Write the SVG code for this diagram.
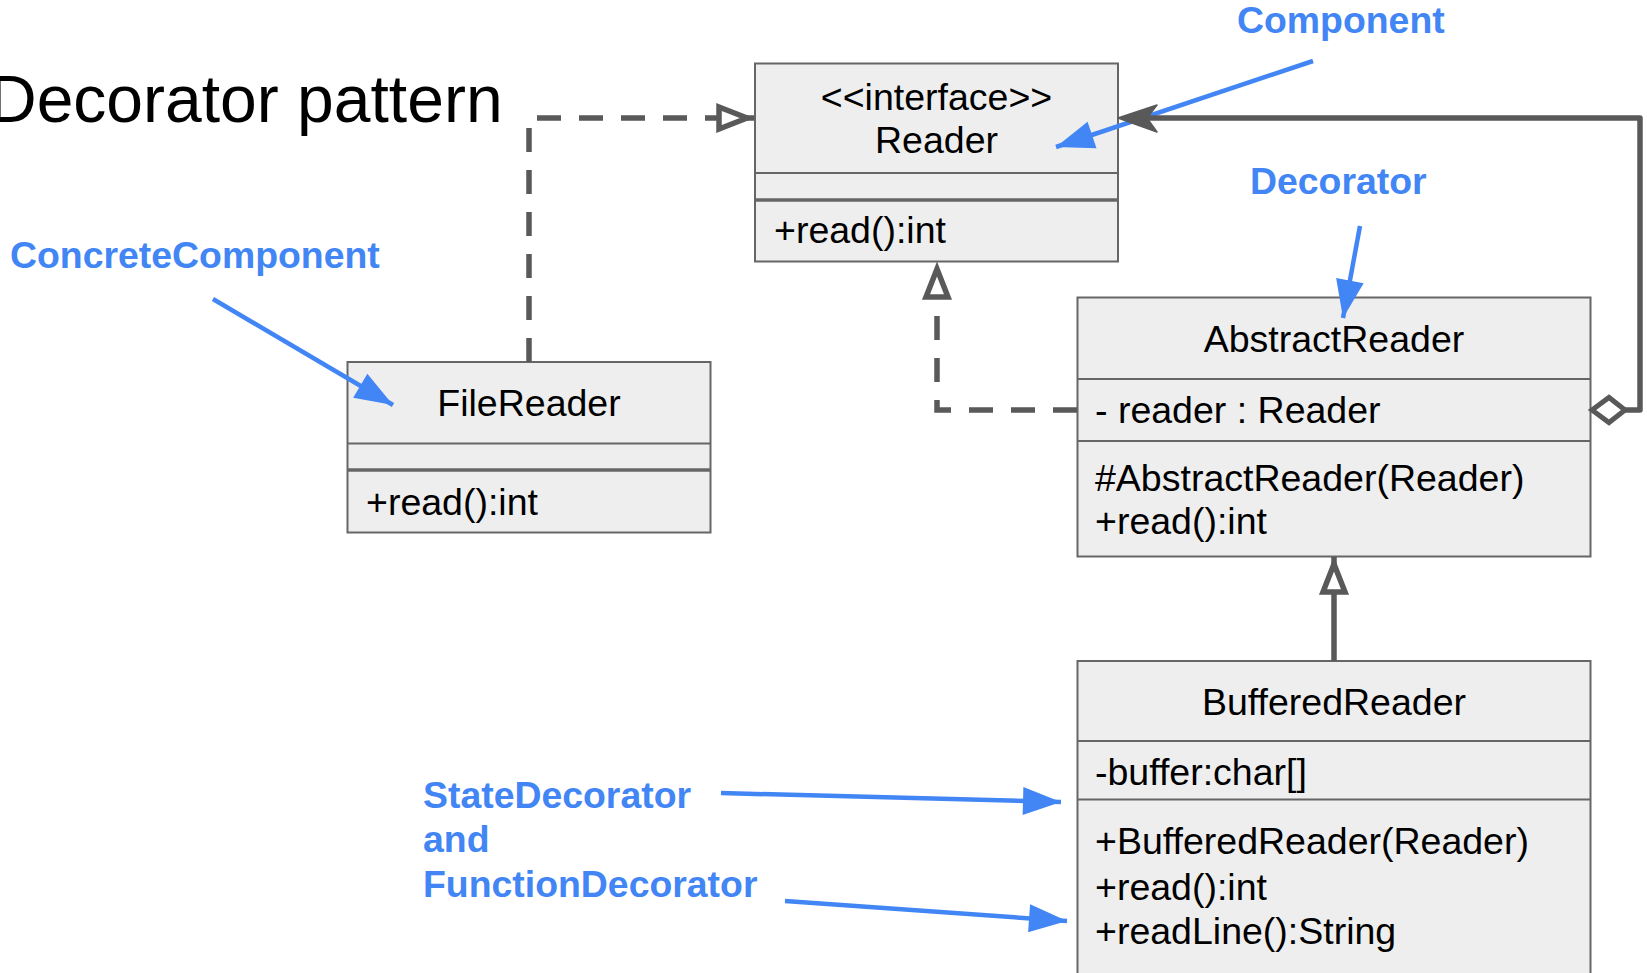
<svg xmlns="http://www.w3.org/2000/svg" width="1647" height="973" viewBox="0 0 1647 973">
  <style>
    .box { fill: #eeeeee; stroke: #666666; stroke-width: 2; }
    .div { stroke: #666666; stroke-width: 2; }
    .div2 { stroke: #666666; stroke-width: 3.5; }
    .t { font-family: "Liberation Sans", Arial, sans-serif; font-size: 37.5px; fill: #000000; }
    .c { text-anchor: middle; }
    .lbl { font-family: "Liberation Sans", Arial, sans-serif; font-size: 37.4px; font-weight: bold; fill: #4285F4; }
    .dash { fill: none; stroke: #595959; stroke-width: 5.5; stroke-dasharray: 24 18; }
    .solid { fill: none; stroke: #595959; stroke-width: 5.5; }
    .blue { fill: none; stroke: #4285F4; stroke-width: 4.5; marker-end: url(#bluehead); }
  </style>
  <defs>
    <!-- hollow triangle for realization / generalization -->
    <marker id="tri" markerUnits="userSpaceOnUse" markerWidth="44" markerHeight="34" refX="35" refY="11" orient="auto" overflow="visible">
      <path d="M0,0 L28,11 L0,22 Z" fill="#ffffff" stroke="#595959" stroke-width="5.5" stroke-dasharray="none"/>
    </marker>
    <!-- filled blue annotation arrowhead -->
    <marker id="bluehead" markerUnits="userSpaceOnUse" markerWidth="40" markerHeight="30" refX="38" refY="14" orient="auto" overflow="visible">
      <path d="M0,0 L38,14 L0,28 Z" fill="#4285F4"/>
    </marker>
  </defs>

  <rect width="1647" height="973" fill="#ffffff"/>

  <text id="title" x="-11" y="122" font-family="Liberation Sans, Arial, sans-serif" font-size="66" fill="#000000">Decorator pattern</text>

  <!-- class boxes -->
  <g id="reader">
    <rect class="box" x="755" y="63.5" width="363" height="198"/>
    <line class="div" x1="755" y1="173" x2="1118" y2="173"/>
    <line class="div2" x1="755" y1="200" x2="1118" y2="200"/>
    <text class="t c" x="936.5" y="110">&lt;&lt;interface&gt;&gt;</text>
    <text class="t c" x="936.5" y="153">Reader</text>
    <text class="t" x="774" y="243">+read():int</text>
  </g>

  <g id="filereader">
    <rect class="box" x="347.5" y="362" width="363" height="170.5"/>
    <line class="div" x1="347.5" y1="443.5" x2="710.5" y2="443.5"/>
    <line class="div2" x1="347.5" y1="470" x2="710.5" y2="470"/>
    <text class="t c" x="529" y="416">FileReader</text>
    <text class="t" x="366" y="515">+read():int</text>
  </g>

  <g id="abstractreader">
    <rect class="box" x="1077.5" y="297.5" width="513" height="259"/>
    <line class="div" x1="1077.5" y1="379" x2="1590.5" y2="379"/>
    <line class="div" x1="1077.5" y1="441" x2="1590.5" y2="441"/>
    <text class="t c" x="1334" y="352">AbstractReader</text>
    <text class="t" x="1095" y="423">- reader : Reader</text>
    <text class="t" x="1095" y="491">#AbstractReader(Reader)</text>
    <text class="t" x="1095" y="534">+read():int</text>
  </g>

  <g id="bufferedreader">
    <rect class="box" x="1077.5" y="661" width="513" height="330"/>
    <line class="div" x1="1077.5" y1="741" x2="1590.5" y2="741"/>
    <line class="div" x1="1077.5" y1="799.5" x2="1590.5" y2="799.5"/>
    <text class="t c" x="1334" y="715">BufferedReader</text>
    <text class="t" x="1095" y="785">-buffer:char[]</text>
    <text class="t" x="1095" y="854">+BufferedReader(Reader)</text>
    <text class="t" x="1095" y="900">+read():int</text>
    <text class="t" x="1095" y="944">+readLine():String</text>
  </g>

  <!-- role annotations -->
  <g id="annotations">
    <text class="lbl" x="1237" y="33">Component</text>
    <text class="lbl" x="1250" y="194">Decorator</text>
    <text class="lbl" x="10" y="268">ConcreteComponent</text>
    <text class="lbl" x="423" y="808">StateDecorator</text>
    <text class="lbl" x="423" y="852">and</text>
    <text class="lbl" x="423" y="897">FunctionDecorator</text>
    <path class="blue" d="M1313,61 L1056,147"/>
    <path class="blue" d="M1360,226 L1343,318"/>
    <path class="blue" d="M213,299 L393,405"/>
    <path class="blue" d="M721,793 L1061,802"/>
    <path class="blue" d="M785,901 L1067,921"/>
  </g>

  <!-- relationships -->
  <g id="connectors">
    <path class="dash" d="M529,362 V118 H754" marker-end="url(#tri)"/>
    <path class="dash" d="M1077,410 H937 V262" marker-end="url(#tri)"/>
    <path class="solid" d="M1334,661 V557" marker-end="url(#tri)"/>
    <path class="solid" d="M1625,410 H1640 V118 H1135" stroke-linejoin="round"/>
    <polygon points="1592,410 1609,397.5 1625,410 1609,422.5" fill="#ffffff" stroke="#595959" stroke-width="5"/>
    <polygon points="1118,118 1157,105 1147,118 1157,132" fill="#595959" stroke="#595959" stroke-width="1.5" stroke-linejoin="round"/>
  </g>
</svg>
